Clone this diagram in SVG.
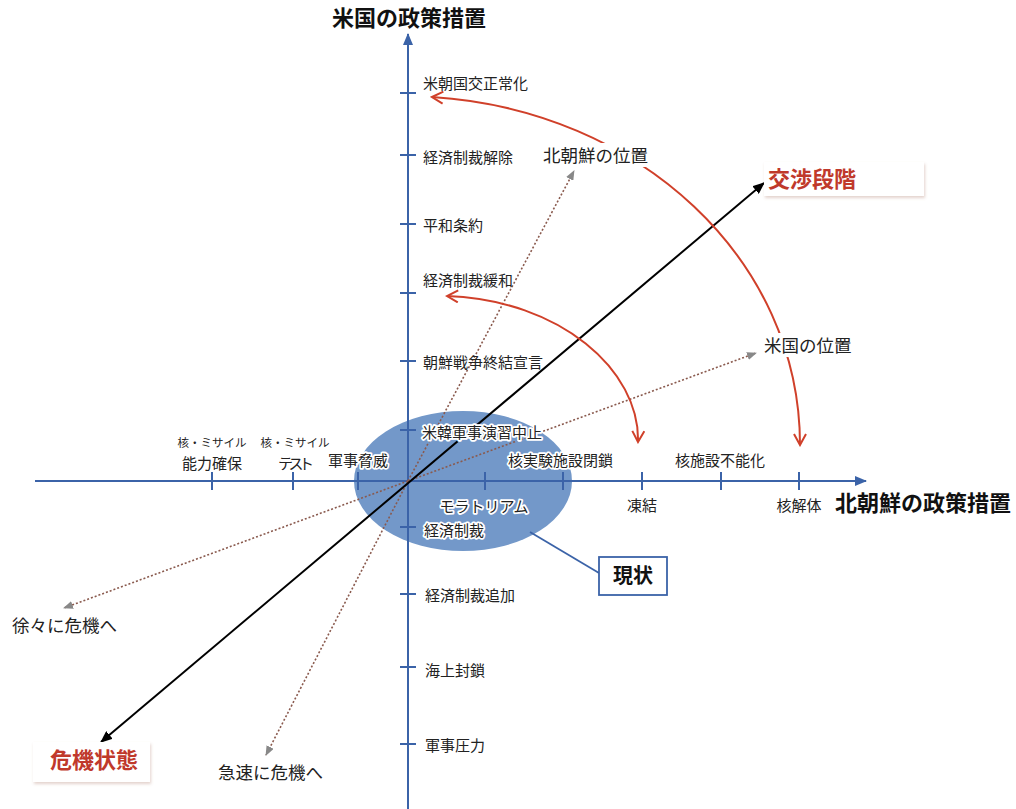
<svg xmlns="http://www.w3.org/2000/svg" width="1016" height="809" viewBox="0 0 1016 809">
<style>
text{font-family:"Noto Sans CJK JP","Noto Sans",sans-serif;fill:#222}
.t{font-size:15px}
.s{font-size:11.5px}
.p{font-size:17.5px}
.ax{font-size:22px;font-weight:bold;fill:#111}
.red{font-size:22px;font-weight:bold;fill:#c0392b}
.halo{stroke:#fff;stroke-width:3.5px;stroke-linejoin:round;paint-order:stroke}
.axis{stroke:#3b63a8;stroke-width:2;fill:none}
.tick{stroke:#3b63a8;stroke-width:2}
.dot{stroke:#8a5a4e;stroke-width:1.6;stroke-dasharray:2 2;fill:none}
.arc{stroke:#d0402a;stroke-width:2;fill:none}
</style>
<defs>
<marker id="ma" markerUnits="userSpaceOnUse" viewBox="0 0 12 10" markerWidth="12" markerHeight="10" refX="11" refY="5" orient="auto"><path d="M0,0 L12,5 L0,10 z" fill="#3b63a8"/></marker>
<marker id="mb" markerUnits="userSpaceOnUse" viewBox="0 0 12 10" markerWidth="12" markerHeight="10" refX="11" refY="5" orient="auto-start-reverse"><path d="M0,0 L12,5 L0,10 z" fill="#000"/></marker>
<marker id="mg" markerUnits="userSpaceOnUse" viewBox="0 0 10 8" markerWidth="10" markerHeight="8" refX="9" refY="4" orient="auto"><path d="M0,0 L10,4 L0,8 z" fill="#888"/></marker>
<marker id="mr" markerUnits="userSpaceOnUse" viewBox="0 0 14 14" markerWidth="14" markerHeight="14" refX="12" refY="7" orient="auto-start-reverse"><path d="M1,1 L12,7 L1,13" fill="none" stroke="#d0402a" stroke-width="2"/></marker>
<filter id="sh" x="-10%" y="-20%" width="130%" height="150%"><feDropShadow dx="1" dy="2" stdDeviation="1.5" flood-color="#b08070" flood-opacity="0.35"/></filter>
</defs>
<rect width="1016" height="809" fill="#fff"/>

<g id="current-ellipse"><ellipse cx="463" cy="481" rx="109" ry="70" fill="#7398c9"/></g>

<g id="axes">
<line class="axis" x1="408" y1="809" x2="408" y2="34" marker-end="url(#ma)"/>
<line class="axis" x1="35" y1="481" x2="866" y2="481" marker-end="url(#ma)"/>
<g id="v-ticks">
<line class="tick" x1="400" y1="93" x2="416" y2="93"/>
<line class="tick" x1="400" y1="155" x2="416" y2="155"/>
<line class="tick" x1="400" y1="224" x2="416" y2="224"/>
<line class="tick" x1="400" y1="293" x2="416" y2="293"/>
<line class="tick" x1="400" y1="361" x2="416" y2="361"/>
<line class="tick" x1="400" y1="430" x2="416" y2="430"/>
<line class="tick" x1="400" y1="527" x2="416" y2="527"/>
<line class="tick" x1="400" y1="594" x2="416" y2="594"/>
<line class="tick" x1="400" y1="667" x2="416" y2="667"/>
<line class="tick" x1="400" y1="744" x2="416" y2="744"/>
</g>
<g id="h-ticks">
<line class="tick" x1="212" y1="472" x2="212" y2="490"/>
<line class="tick" x1="293" y1="472" x2="293" y2="490"/>
<line class="tick" x1="358" y1="472" x2="358" y2="490"/>
<line class="tick" x1="485" y1="472" x2="485" y2="490"/>
<line class="tick" x1="563" y1="472" x2="563" y2="490"/>
<line class="tick" x1="642" y1="472" x2="642" y2="490"/>
<line class="tick" x1="721" y1="472" x2="721" y2="490"/>
<line class="tick" x1="799" y1="472" x2="799" y2="490"/>
</g>
</g>

<g id="connectors">
<line class="dot" x1="408" y1="481" x2="574" y2="171" marker-end="url(#mg)"/>
<line class="dot" x1="408" y1="481" x2="266" y2="755" marker-end="url(#mg)"/>
<line class="dot" x1="408" y1="481" x2="756" y2="353" marker-end="url(#mg)"/>
<line class="dot" x1="408" y1="481" x2="64" y2="608" marker-end="url(#mg)"/>
<line x1="101" y1="742" x2="764" y2="183" stroke="#000" stroke-width="2" marker-start="url(#mb)" marker-end="url(#mb)"/>
<path class="arc" d="M432,97 C640,110 800,260 800,445" marker-start="url(#mr)" marker-end="url(#mr)"/>
<path class="arc" d="M447,296 C560,300 640,370 638,442" marker-start="url(#mr)" marker-end="url(#mr)"/>
<line x1="530" y1="532" x2="599" y2="573" stroke="#3b63a8" stroke-width="1.8"/>
</g>

<g id="v-labels">
<text class="t" x="423" y="89">米朝国交正常化</text>
<text class="t" x="423" y="163">経済制裁解除</text>
<text class="t" x="423" y="231">平和条約</text>
<text class="t" x="423" y="286">経済制裁緩和</text>
<text class="t" x="423" y="368">朝鮮戦争終結宣言</text>
<text class="t halo" x="422" y="438">米韓軍事演習中止</text>
<text class="t halo" x="424" y="536">経済制裁</text>
<text class="t" x="425" y="601">経済制裁追加</text>
<text class="t" x="425" y="676">海上封鎖</text>
<text class="t" x="425" y="751">軍事圧力</text>
</g>
<g id="h-labels">
<text class="s" x="212" y="447" text-anchor="middle">核・ミサイル</text>
<text class="t" x="212" y="469" text-anchor="middle">能力確保</text>
<text class="s" x="295" y="447" text-anchor="middle">核・ミサイル</text>
<text class="t" x="296" y="469" text-anchor="middle" textLength="36">テスト</text>
<text class="t halo" x="358" y="466" text-anchor="middle">軍事脅威</text>
<text class="t halo" x="508" y="466">核実験施設閉鎖</text>
<text class="t" x="675" y="466">核施設不能化</text>
<text class="t halo" x="484" y="512" text-anchor="middle">モラトリアム</text>
<text class="t" x="642" y="511" text-anchor="middle">凍結</text>
<text class="t" x="799" y="511" text-anchor="middle">核解体</text>
</g>
<g id="axis-titles">
<text class="ax" x="332" y="26">米国の政策措置</text>
<text class="ax" x="835" y="511">北朝鮮の政策措置</text>
</g>
<g id="nk-position"><rect x="540" y="143" width="112" height="24" fill="#fff"/><text class="p" x="543" y="162">北朝鮮の位置</text></g>
<g id="us-position"><rect x="761" y="333" width="94" height="24" fill="#fff"/><text class="p" x="764" y="352">米国の位置</text></g>
<g id="gradual"><text class="p" x="12" y="632">徐々に危機へ</text></g>
<g id="rapid"><text class="p" x="218" y="779">急速に危機へ</text></g>
<g id="negotiation"><rect x="764" y="162" width="160" height="34" fill="#fff" filter="url(#sh)"/><text class="red" x="768" y="187">交渉段階</text></g>
<g id="crisis"><rect x="33" y="742" width="117" height="40" fill="#fff" filter="url(#sh)"/><text class="red" x="50" y="768">危機状態</text></g>
<g id="status"><rect x="599" y="557" width="68" height="38" fill="#fff" stroke="#3b63a8" stroke-width="1.8"/><text x="633" y="583" text-anchor="middle" style="font-size:20px;font-weight:bold;fill:#111">現状</text></g>
</svg>
